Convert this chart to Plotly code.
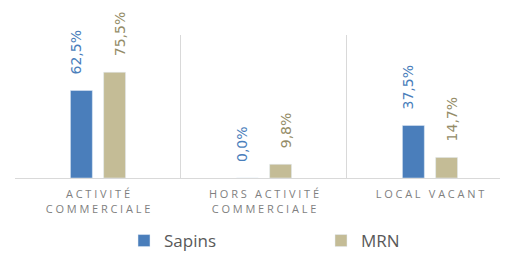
import plotly.graph_objects as go

categories = ["ACTIVITÉ<br>COMMERCIALE", "HORS ACTIVITÉ<br>COMMERCIALE", "LOCAL VACANT"]
sapins = [62.5, 0.0, 37.5]
mrn = [75.5, 9.8, 14.7]
series_names = ["Sapins", "MRN"]


def spaced(label):
    lines = label.split("<br>")
    out = []
    for ln in lines:
        words = ln.split(" ")
        out.append("\u2002\u2005".join("\u2005".join(w) for w in words))
    return "<br>".join(out)


def fmt(v):
    return f"{v:.1f}".replace(".", ",") + "%"


blue = "#4a7ebb"
tan = "#c4bc96"
blue_txt = "#4a7ebb"
tan_txt = "#948c68"

W, H = 500, 245

fig = go.Figure()
fig.add_trace(go.Bar(x=categories, y=sapins, name=series_names[0], marker_color=blue))
fig.add_trace(go.Bar(x=categories, y=mrn, name=series_names[1], marker_color=tan))

annotations = []
for vals, shift, col in [(sapins, -22, blue_txt), (mrn, 22, tan_txt)]:
    for c, v in zip(categories, vals):
        annotations.append(dict(
            x=c, y=v, xref="x", yref="y", text=fmt(v), showarrow=False,
            textangle=-90, xanchor="center", yanchor="bottom", xshift=shift, yshift=14,
            font=dict(family="DejaVu Sans", size=14, color=col),
        ))

fig.update_layout(
    width=W, height=H,
    margin=dict(l=7, r=0, t=27, b=H - 170, autoexpand=False),
    paper_bgcolor="white", plot_bgcolor="white",
    barmode="group", bargap=0.6, bargroupgap=0.34,
    showlegend=True,
    legend=dict(
        orientation="h", xref="container", yref="container",
        x=116 / W, y=(H - 233) / H, xanchor="left", yanchor="middle",
        entrywidth=152, font=dict(family="Open Sans", size=17, color="#595959"),
        itemclick=False,
    ),
    annotations=annotations,
)
fig.update_xaxes(
    tickmode="array", tickvals=categories, ticktext=[spaced(c) for c in categories],
    range=[-0.5, 2.47], tickson="boundaries", showgrid=True, gridcolor="#d9d9d9", gridwidth=1,
    showline=True, linecolor="#d9d9d9", ticks="", ticklabelstandoff=6,
    tickfont=dict(family="Open Sans", size=11, color="#7f7f7f"),
)
fig.update_yaxes(range=[0, 102.1], visible=False, showgrid=False, zeroline=False)

fig.write_html("out.html")
